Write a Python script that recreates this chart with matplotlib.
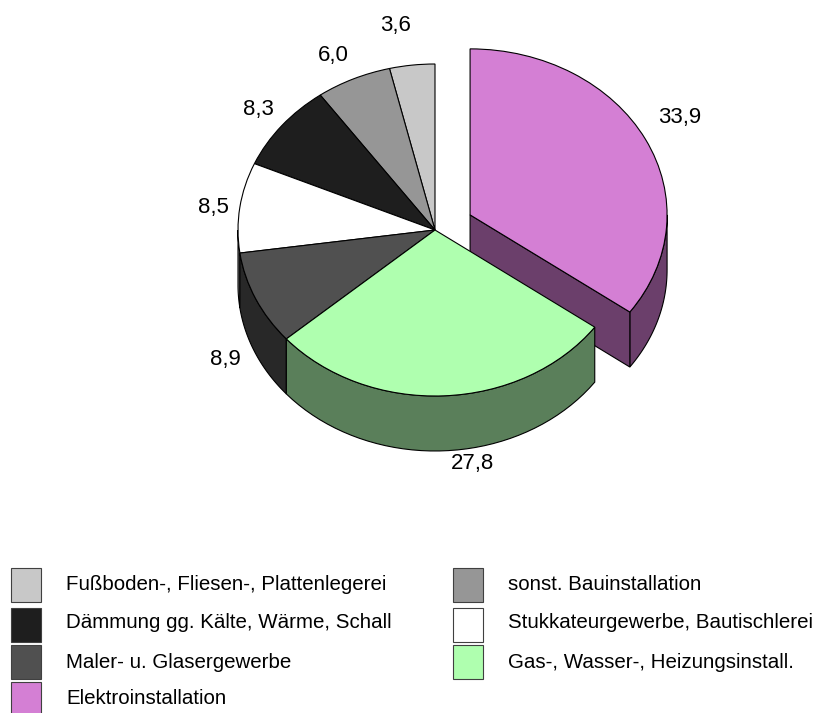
import numpy as np
import matplotlib
matplotlib.use("Agg")
import matplotlib.pyplot as plt
from matplotlib.patches import Polygon, Rectangle

plt.rcParams['font.family'] = ['Liberation Sans', 'DejaVu Sans']

categories = ["Fußboden-, Fliesen-, Plattenlegerei", "sonst. Bauinstallation",
              "Dämmung gg. Kälte, Wärme, Schall", "Stukkateurgewerbe, Bautischlerei",
              "Maler- u. Glasergewerbe", "Gas-, Wasser-, Heizungsinstall.",
              "Elektroinstallation"]
values = [3.6, 6.0, 8.3, 8.5, 8.9, 27.8, 33.9]
colors = ["#C8C8C8", "#969696", "#1E1E1E", "#FFFFFF", "#505050", "#AFFFAF", "#D47FD4"]
side_colors = ["#646464", "#4B4B4B", "#0F0F0F", "#808080", "#282828", "#5A7F5A", "#6B3F6B"]
explode = [0, 0, 0, 0, 0, 0, 0.2]
label_pos = [(396, 26), (333, 56), (258, 109), (213, 207), (225, 359), (472, 464), (680, 118)]
legend_pos = [(11, 567.5, 585), (453, 567.5, 585), (11, 608, 622), (453, 608, 622),
              (11, 645, 662), (453, 645, 662), (11, 682, 698)]

W, H = 822, 713
CX, CY, RX, RY = 435, 230, 197, 166
DEPTH = 55 / RY

fig = plt.figure(figsize=(W / 100, H / 100), dpi=100)
ax = fig.add_axes([0, 0, 1, 1])
wedges, _ = ax.pie(values, colors=colors, explode=explode, startangle=90, counterclock=True,
                   wedgeprops=dict(edgecolor="black", linewidth=0.8))
ax.set_aspect('auto')
ax.set_xlim(-CX / RX, (W - CX) / RX)
ax.set_ylim(-(H - CY) / RY, CY / RY)
ax.axis('off')

for w, side, ex in zip(wedges, side_colors, explode):
    base = 1 if ex else 3
    w.set_zorder(base + 1)
    c = np.array(w.center)
    t1, t2 = w.theta1 % 360, w.theta1 % 360 + (w.theta2 - w.theta1)
    a, b = max(t1, 180), min(t2, 360)
    if b > a:
        t = np.radians(np.linspace(a, b, 40))
        top = np.c_[c[0] + np.cos(t), c[1] + np.sin(t)]
        bot = top - [0, DEPTH]
        ax.add_patch(Polygon(np.r_[top, bot[::-1]], closed=True, facecolor=side,
                             edgecolor="black", linewidth=0.8, zorder=base))
    if ex:
        t = np.radians(w.theta1)
        e = c + [np.cos(t), np.sin(t)]
        ax.add_patch(Polygon([c, e, e - [0, DEPTH], c - [0, DEPTH]], closed=True, facecolor=side,
                             edgecolor="black", linewidth=0.8, zorder=base))

ov = fig.add_axes([0, 0, 1, 1], facecolor='none')
ov.set_xlim(0, W)
ov.set_ylim(H, 0)
ov.axis('off')

for v, (x, y) in zip(values, label_pos):
    ov.text(x, y, f"{v:.1f}".replace(".", ","), ha="center", va="center", fontsize=16, color="black")

for name, col, (x, top, ty) in zip(categories, colors, legend_pos):
    ov.add_patch(Rectangle((x, top), 30, 34, facecolor=col, edgecolor="#404040", linewidth=0.8))
    ov.text(x + 55, ty, name, ha="left", va="center", fontsize=14.8, color="black")

fig.savefig("out.png", dpi=100)
